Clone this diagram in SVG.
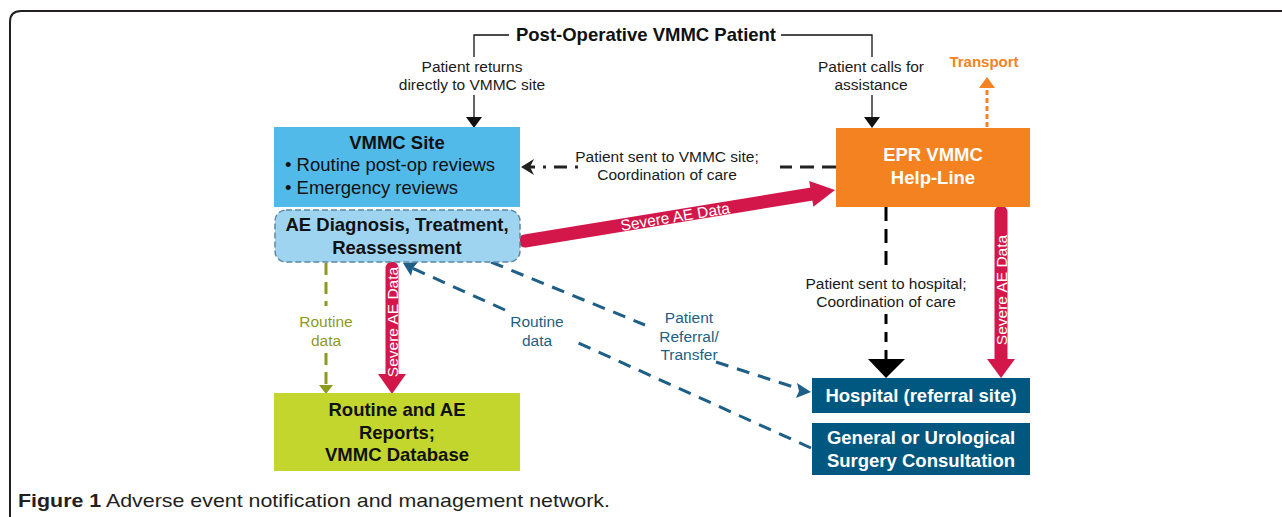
<svg xmlns="http://www.w3.org/2000/svg" width="1282" height="517" viewBox="0 0 1282 517">
<style>
text{font-family:"Liberation Sans",Arial,sans-serif}
.lbl{font-size:15.5px;fill:#1a1a1a;text-anchor:middle}
.nb{font-size:18.5px;font-weight:bold;fill:#111;text-anchor:middle}
.nw{font-size:18.5px;font-weight:bold;fill:#fff;text-anchor:middle}
.blue{fill:#1d5f86}
.olive{fill:#8c9a1f}
.wt{font-size:15.5px;fill:#fff;text-anchor:middle}
</style>
<rect width="1282" height="517" fill="#fff"/>
<!-- outer frame -->
<path d="M10,520 V22 Q10,11 21,11 H1290" fill="none" stroke="#231f20" stroke-width="2"/>

<g id="connectors">
  <!-- top bracket -->
  <g stroke="#111" stroke-width="1.3" fill="none">
    <polyline points="509,35 474,35 474,57"/>
    <polyline points="781,35 872,35 872,57"/>
    <line x1="474" y1="95" x2="474" y2="119"/>
    <line x1="872" y1="95" x2="872" y2="119"/>
  </g>
  <polygon points="466,117 482,117 474,128" fill="#111"/>
  <polygon points="864,117 880,117 872,128" fill="#111"/>

  <!-- transport dotted -->
  <line x1="987" y1="127" x2="987" y2="87" stroke="#f58220" stroke-width="3" stroke-dasharray="5,3"/>
  <polygon points="979,88 995,88 987,77" fill="#f58220"/>

  <!-- EPR to VMMC site dashed -->
  <g stroke="#222" stroke-width="3" fill="none">
    <line x1="836" y1="167" x2="780" y2="167" stroke-dasharray="14,8"/>
    <line x1="578" y1="167" x2="530" y2="167" stroke-dasharray="3,8,13,8"/>
  </g>
  <polygon points="521,167 534,159 530,167 534,175" fill="#222"/>

  <!-- EPR to hospital dashed -->
  <g stroke="#000" stroke-width="3" fill="none">
    <line x1="886" y1="207" x2="886" y2="268" stroke-dasharray="14,8"/>
    <line x1="886" y1="314" x2="886" y2="360" stroke-dasharray="10,8"/>
  </g>
  <polygon points="868,359 905,359 886,378" fill="#000"/>

  <!-- olive routine data -->
  <g stroke="#8c9a1f" stroke-width="3" fill="none">
    <line x1="326" y1="263" x2="326" y2="306" stroke-dasharray="12,7"/>
    <line x1="326" y1="353" x2="326" y2="386" stroke-dasharray="12,7"/>
  </g>
  <polygon points="319,385 333,385 326,394" fill="#8c9a1f"/>

  <!-- blue dashed: referral -->
  <line x1="491" y1="262" x2="645" y2="325" stroke="#1d5f86" stroke-width="3" stroke-dasharray="13,9"/>
  <line x1="716" y1="362" x2="803" y2="390" stroke="#1d5f86" stroke-width="3" stroke-dasharray="13,9"/>
  <polygon points="811,392 796,398 799,391 797,383" fill="#1d5f86"/>

  <!-- blue dashed: routine data (General -> AE) -->
  <line x1="811" y1="448" x2="574" y2="341" stroke="#1d5f86" stroke-width="3" stroke-dasharray="13,9"/>
  <line x1="505" y1="310" x2="412" y2="268" stroke="#1d5f86" stroke-width="3" stroke-dasharray="13,9"/>
  <polygon points="403,263 418,262 413,268 411,276" fill="#1d5f86"/>

  <!-- red diagonal -->
  <line x1="525" y1="241" x2="812" y2="194" stroke="#d4174b" stroke-width="13" stroke-linecap="round"/>
  <polygon points="835,190 813.4,206.7 809.2,181.1" fill="#d4174b"/>
  <text class="wt" transform="translate(676,222) rotate(-9.3)">Severe AE Data</text>

  <!-- red vertical AE -> reports -->
  <line x1="392" y1="268" x2="392" y2="375" stroke="#d4174b" stroke-width="13" stroke-linecap="round"/>
  <polygon points="378,374 406,374 392,394" fill="#d4174b"/>
  <text class="wt" transform="translate(397.5,322) rotate(-90)">Severe AE Data</text>

  <!-- red vertical EPR -> hospital -->
  <line x1="1001" y1="212" x2="1001" y2="360" stroke="#d4174b" stroke-width="13" stroke-linecap="round"/>
  <polygon points="987,359 1015,359 1001,378" fill="#d4174b"/>
  <text class="wt" transform="translate(1006.5,290) rotate(-90)">Severe AE Data</text>

  <!-- connector labels -->
  <text class="lbl" x="472" y="72">Patient returns</text>
  <text class="lbl" x="472" y="90">directly to VMMC site</text>
  <text class="lbl" x="871" y="72">Patient calls for</text>
  <text class="lbl" x="871" y="90">assistance</text>
  <text class="lbl" x="667" y="162">Patient sent to VMMC site;</text>
  <text class="lbl" x="667" y="180">Coordination of care</text>
  <text class="lbl" x="886" y="289">Patient sent to hospital;</text>
  <text class="lbl" x="886" y="307">Coordination of care</text>
  <text class="lbl olive" x="326" y="327">Routine</text>
  <text class="lbl olive" x="326" y="346">data</text>
  <text class="lbl blue" x="537" y="327">Routine</text>
  <text class="lbl blue" x="537" y="346">data</text>
  <text class="lbl blue" x="689" y="323">Patient</text>
  <text class="lbl blue" x="689" y="342">Referral/</text>
  <text class="lbl blue" x="689" y="360">Transfer</text>
  <text x="984" y="67" style="font-size:15px;font-weight:bold;fill:#f58220;text-anchor:middle">Transport</text>
</g>

<g id="title">
  <text class="nb" x="646" y="41">Post-Operative VMMC Patient</text>
</g>

<g id="vmmc-site">
  <rect x="274" y="127" width="246" height="80" fill="#52bae9"/>
  <text class="nb" x="397" y="149">VMMC Site</text>
  <text x="285" y="171" style="font-size:18.5px;fill:#111">• Routine post-op reviews</text>
  <text x="285" y="194" style="font-size:18.5px;fill:#111">• Emergency reviews</text>
</g>

<g id="ae-diagnosis">
  <rect x="275" y="210" width="245" height="52" rx="11" fill="#9fd4f1" stroke="#5b88a6" stroke-width="1.5" stroke-dasharray="6,3"/>
  <text class="nb" x="397" y="231">AE Diagnosis, Treatment,</text>
  <text class="nb" x="397" y="254">Reassessment</text>
</g>

<g id="reports">
  <rect x="274" y="393" width="246" height="78" fill="#c2d62e"/>
  <text class="nb" x="397" y="416">Routine and AE</text>
  <text class="nb" x="397" y="439">Reports;</text>
  <text class="nb" x="397" y="461">VMMC Database</text>
</g>

<g id="epr-helpline">
  <rect x="836" y="128" width="194" height="79" fill="#f58220"/>
  <text class="nw" x="933" y="161">EPR VMMC</text>
  <text class="nw" x="933" y="184">Help-Line</text>
</g>

<g id="hospital">
  <rect x="812" y="378" width="218" height="35" fill="#00577f"/>
  <text class="nw" x="921" y="402">Hospital (referral site)</text>
</g>

<g id="surgery">
  <rect x="812" y="423" width="218" height="52" fill="#00577f"/>
  <text class="nw" x="921" y="444">General or Urological</text>
  <text class="nw" x="921" y="467">Surgery Consultation</text>
</g>

<g id="caption">
  <text x="18" y="507" textLength="592" lengthAdjust="spacingAndGlyphs" style="font-size:19px;fill:#231f20"><tspan font-weight="bold">Figure 1</tspan> Adverse event notification and management network.</text>
</g>
</svg>
